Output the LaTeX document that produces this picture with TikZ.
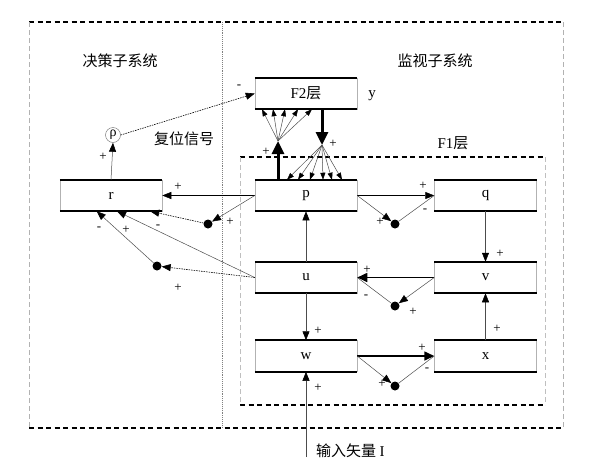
\documentclass[tikz,border=0pt]{standalone}
\usepackage{fontspec}
\setmainfont{Liberation Serif}
\newfontfamily\cjk{Noto Sans CJK SC}
\usetikzlibrary{arrows.meta,calc}

\begin{document}
\begin{tikzpicture}[x=1pt, y=-1pt,
    layerbox/.style={draw=gray!60, line width=0.5pt, minimum width=102pt, minimum height=31pt, inner sep=0pt, font=\fontsize{15}{17}\selectfont},
    junc/.style={circle, fill=black, inner sep=0pt, minimum size=9pt},
    link/.style={draw=gray!60!black, line width=0.5pt},
    tip/.style={link, -{Triangle[length=9pt, width=7pt, color=black]}},
    dottip/.style={tip, draw=black, line width=0.6pt, dash pattern=on 1.5pt off 1pt},
    smalltip/.style={link, -{Triangle[length=7pt, width=5pt, color=black]}},
    bigtip/.style={black, line width=1.6pt, -{Triangle[length=10pt, width=9pt]}},
    hugetip/.style={black, line width=3pt, -{Triangle[length=13pt, width=12pt]}},
    sgn/.style={font=\fontsize{13}{13}\selectfont, inner sep=0pt},
    lbl/.style={font=\cjk\fontsize{15}{17}\selectfont, inner sep=0pt}]
    \useasboundingbox (0,0) rectangle (596,474);
    % frames of the two subsystems
    \draw[black, line width=1.6pt, dash pattern=on 5pt off 3.5pt] (29,22) -- (563,22);
    \draw[black, line width=1.4pt, dash pattern=on 5pt off 3.5pt] (29,428) -- (563,428);
    \draw[gray!60, line width=0.8pt, dash pattern=on 5pt off 3pt] (29,22) -- (29,428);
    \draw[gray!60, line width=0.8pt, dash pattern=on 5pt off 3pt] (563,22) -- (563,428);
    \draw[gray, line width=0.9pt, densely dotted] (222,22) -- (222,428);
    % F1 layer
    \draw[black, line width=1.4pt, dash pattern=on 5pt off 3.5pt] (240,157) -- (545,157);
    \draw[black, line width=1.4pt, dash pattern=on 5pt off 3.5pt] (240,405) -- (545,405);
    \draw[gray!50, line width=0.8pt, dash pattern=on 5pt off 3pt] (240,157) -- (240,405);
    \draw[gray!50, line width=0.8pt, dash pattern=on 5pt off 3pt] (545,157) -- (545,405);

    \node[lbl] at (120,61) {决策子系统};
    \node[lbl] at (435,61) {监视子系统};
    \node[lbl] at (184,139) {复位信号};
    \node[font=\fontsize{15}{17}\selectfont, inner sep=0pt] at (453,143) {F1{\cjk 层}};
    \node[font=\fontsize{15}{17}\selectfont, inner sep=0pt] at (372,96) {y};

    % layers and units
    \node[layerbox] (F2) at (306,93.5) {F2{\cjk 层}};
    \node[layerbox] (P) at (306,195.5) {p};
    \node[layerbox] (R) at (111,195.5) {r};
    \node[layerbox] (Q) at (485.5,195.5) {q};
    \node[layerbox] (U) at (306,277.5) {u};
    \node[layerbox] (V) at (485.5,277.5) {v};
    \node[layerbox] (W) at (306,356) {w};
    \node[layerbox] (X) at (485.5,356) {x};
    \foreach \n in {F2,P,R,Q,U,V,W,X}
        \draw[black, line width=1.8pt] (\n.north west) -- (\n.north east) (\n.south west) -- (\n.south east);

    \node[circle, draw=gray, line width=0.5pt, inner sep=0pt, minimum size=15pt, font=\fontsize{14}{14}\selectfont] (rho) at (113,135) {ρ};
    \node[junc] (d1) at (208,224) {};
    \node[junc] (d2) at (157,266) {};
    \node[junc] (d3) at (395,224) {};
    \node[junc] (d4) at (395,306) {};
    \node[junc] (d5) at (395,386) {};
    \coordinate (a1) at (278,141);
    \coordinate (a2) at (322,145);
    \coordinate (inp) at (306,457);
    \node[lbl, anchor=west] at (316,451) {输入矢量 {\rmfamily I}};

    % reset path
    \draw[tip] (R.north) -- (rho.south);
    \node[sgn] at (103,157) {+};
    \draw[dottip] (rho.east) -- (F2.west);
    \node[sgn] at (239,87) {-};
    \draw[tip, black] (P.west) -- (R.east);
    \node[sgn] at (178,187) {+};
    \draw[tip] (P.west) -- (d1);
    \node[sgn] at (230,222) {+};
    \draw[dottip] (d1) -- ($(R.south east)+(-12,0)$);
    \node[sgn] at (158,227) {-};
    \draw[tip] (U.west) -- ($(R.south)+(6,0)$);
    \node[sgn] at (126,230) {+};
    \draw[dottip] (U.west) -- (d2);
    \node[sgn] at (178,288) {+};
    \draw[tip] (d2) -- ($(R.south west)+(37,0)$);
    \node[sgn] at (99,229) {-};

    % p - q
    \draw[tip, black] (P.east) -- (Q.west);
    \node[sgn] at (423,186) {+};
    \draw[tip] (P.east) -- (d3);
    \node[sgn] at (380,222) {+};
    \draw[link] (d3) -- (Q.west);
    \node[sgn] at (425,211) {-};
    \draw[tip] (Q.south) -- (V.north);
    \node[sgn] at (500,254) {+};

    % v - u
    \draw[bigtip] (V.west) -- (U.east);
    \node[sgn] at (367,270) {+};
    \draw[tip] (V.west) -- (d4);
    \node[sgn] at (413,312) {+};
    \draw[link] (d4) -- (U.east);
    \node[sgn] at (366,297) {-};
    \draw[tip] (X.north) -- (V.south);
    \node[sgn] at (497,329) {+};

    % u - w - x
    \draw[tip] (U.south) -- (W.north);
    \node[sgn] at (318,331) {+};
    \draw[tip] (U.north) -- (P.south);
    \draw[bigtip] (W.east) -- (X.west);
    \node[sgn] at (422,348) {+};
    \draw[tip] (W.east) -- (d5);
    \node[sgn] at (382,384) {+};
    \draw[link] (d5) -- (X.west);
    \node[sgn] at (427,370) {-};
    \draw[tip] (inp) -- (W.south);
    \node[sgn] at (318,388) {+};

    % p <-> F2
    \draw[hugetip] ($(P.north)+(-28,0)$) -- (a1);
    \node[sgn] at (266,152) {+};
    \foreach \dx in {-44,-33,-21,-8,6}
        \draw[smalltip] (a1) -- ($(F2.south)+(\dx,0)$);
    \draw[hugetip] ($(F2.south)+(16,0)$) -- (a2);
    \node[sgn] at (333,144) {+};
    \foreach \dx in {-19,-8,4,17,26,36}
        \draw[smalltip] (a2) -- ($(P.north)+(\dx,0)$);
\end{tikzpicture}
\end{document}
